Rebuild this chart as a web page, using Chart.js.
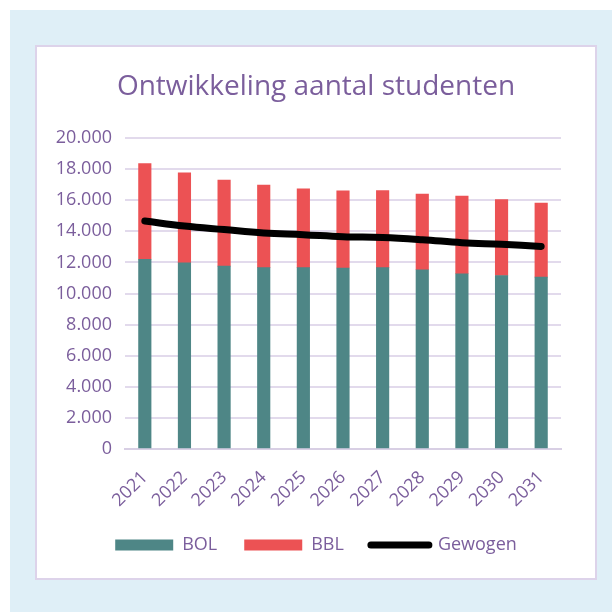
<!DOCTYPE html>
<html>
<head>
<meta charset="utf-8">
<script src="https://cdn.jsdelivr.net/npm/chart.js@4/dist/chart.umd.min.js"></script>
<style>
  body { margin: 0; width: 612px; height: 612px; background: #fff; position: relative; overflow: hidden; }
  #bg { position: absolute; left: 10px; top: 10px; width: 602px; height: 602px; background: #dfeff7; }
  #card { position: absolute; left: 35px; top: 45px; width: 558px; height: 531px; background: #fff; border: 2px solid #ddd3ea; }
  canvas { display: block; }
</style>
</head>
<body>
<div id="bg"></div>
<div id="card"><canvas id="chart" width="558" height="531"></canvas></div>
<script>
const years = ['2021', '2022', '2023', '2024', '2025', '2026', '2027', '2028', '2029', '2030', '2031'];
const bol = [12200, 11980, 11760, 11660, 11660, 11640, 11660, 11530, 11270, 11160, 11050];
const bbl = [6150, 5780, 5530, 5310, 5070, 4960, 4960, 4860, 4990, 4880, 4760];
const gewogen = [14660, 14340, 14110, 13890, 13780, 13650, 13600, 13460, 13270, 13160, 13030];
const yTickLabels = ['0', '2.000', '4.000', '6.000', '8.000', '10.000', '12.000', '14.000', '16.000', '18.000', '20.000'];

const purple = '#7b5e9c';
const gridColor = '#e2daec';
const fontFamily = '"Open Sans", sans-serif';

const ctx = document.getElementById('chart').getContext('2d');
new Chart(ctx, {
  data: {
    labels: years,
    datasets: [
      {
        type: 'line',
        label: 'Gewogen',
        data: gewogen,
        stack: 'line',
        borderColor: '#000',
        backgroundColor: '#000',
        borderWidth: 7,
        borderCapStyle: 'round',
        tension: 0.4,
        pointRadius: 0,
        pointHoverRadius: 0,
        order: 0,
      },
      {
        type: 'bar',
        label: 'BOL',
        data: bol,
        stack: 'bars',
        backgroundColor: '#4e8686',
        barThickness: 12.5,
        order: 1,
      },
      {
        type: 'bar',
        label: 'BBL',
        data: bbl,
        stack: 'bars',
        backgroundColor: '#ec5254',
        barThickness: 12.5,
        order: 1,
      },
    ],
  },
  options: {
    responsive: false,
    animation: false,
    layout: { padding: { left: 0, right: 0, top: 0, bottom: 14 } },
    plugins: {
      title: {
        display: true,
        text: 'Ontwikkeling aantal studenten',
        color: purple,
        font: { family: fontFamily, size: 28, weight: 'normal' },
        padding: { top: 23, bottom: 34.4 },
      },
      legend: {
        position: 'bottom',
        labels: {
          color: purple,
          font: { family: fontFamily, size: 18 },
          boxWidth: 58,
          boxHeight: 11,
          padding: 27,
          // BOL, BBL, Gewogen order; the line entry drawn as a thick line
          generateLabels(chart) {
            const items = Chart.defaults.plugins.legend.labels.generateLabels(chart);
            items.forEach(item => {
              if (item.datasetIndex === 0) {
                item.pointStyle = 'line';
                item.lineWidth = 7;
                item.lineCap = 'round';
              } else {
                item.pointStyle = 'rect';
                item.lineWidth = 0;
              }
            });
            return items.sort((a, b) => (a.datasetIndex === 0) - (b.datasetIndex === 0) || a.datasetIndex - b.datasetIndex);
          },
          usePointStyle: true,
          pointStyleWidth: 58,
        },
      },
      tooltip: { enabled: false },
    },
    scales: {
      x: {
        stacked: true,
        grid: { display: false },
        border: { color: '#d8cfe4', width: 2 },
        ticks: {
          color: purple,
          font: { family: fontFamily, size: 18 },
          minRotation: 45,
          maxRotation: 45,
          padding: 10,
        },
        afterFit(scale) { scale.height = 60; },
      },
      y: {
        stacked: true,
        min: 0,
        max: 20000,
        grid: { color: gridColor, lineWidth: 2, drawTicks: false },
        border: { display: false },
        ticks: {
          stepSize: 2000,
          color: purple,
          font: { family: fontFamily, size: 18 },
          padding: 13,
          callback: (v) => yTickLabels[v / 2000],
        },
        afterFit(scale) { scale.width = 88; },
      },
      yRight: {
        position: 'right',
        grid: { display: false },
        border: { display: false },
        ticks: { display: false },
        afterFit(scale) { scale.width = 34; },
      },
    },
  },
});
</script>
</body>
</html>
